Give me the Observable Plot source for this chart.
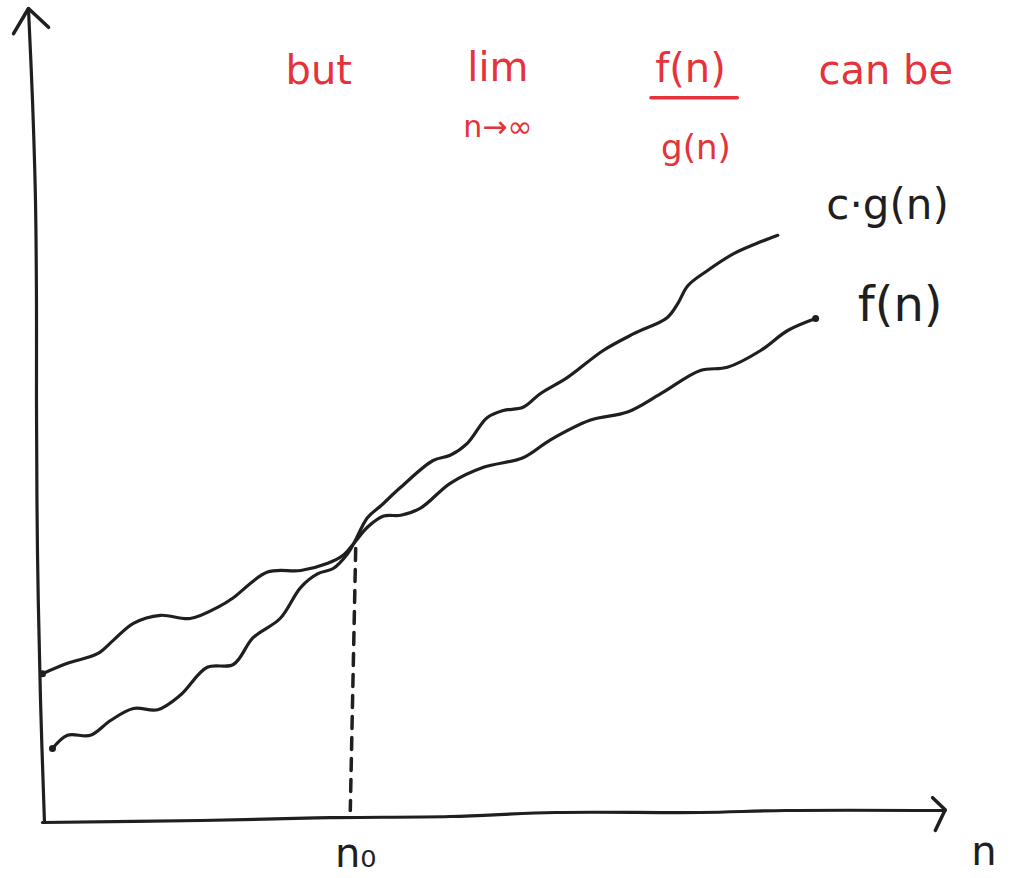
<!DOCTYPE html>
<html>
<head>
<meta charset="utf-8">
<script src="https://cdn.jsdelivr.net/npm/d3@7"></script>
<script src="https://cdn.jsdelivr.net/npm/@observablehq/plot@0.6"></script>
<style>
  html, body { margin: 0; padding: 0; background: #fff; }
  #chart svg { display: block; }
</style>
</head>
<body>
<div id="chart"></div>
<script>
// ---- data (n, value) in chart units ----
const fN  = [0, 2.78, 6.11, 7.89, 10.1, 13.1, 16.4, 19.8, 21.2, 25.0, 28.7, 31.7, 33.4, 34.6, 36.1, 37.9, 39.8, 42.0, 45.3, 49.0, 53.4, 56.4, 60.9, 65.0, 68.7, 73.1, 76.1, 79.8, 82.8, 85.9];
const fV  = [18.6, 19.9, 21.1, 22.8, 24.9, 25.9, 25.5, 27.1, 28.1, 31.3, 31.5, 32.4, 33.4, 34.9, 36.9, 38.3, 38.4, 39.3, 42.4, 44.4, 45.6, 47.8, 50.3, 51.3, 53.6, 56.5, 56.9, 59.0, 61.5, 63.0];
const cgN = [1.11, 2.78, 5.33, 7.56, 10.1, 12.8, 15.3, 18.3, 21.2, 23.4, 26.4, 28.7, 30.6, 32.3, 33.9, 34.6, 36.1, 37.6, 39.8, 43.4, 45.3, 47.2, 49.4, 51.2, 53.4, 55.3, 58.3, 62.3, 65.7, 69.4, 70.6, 71.7, 73.9, 76.8, 79.4, 81.7];
const cgV = [9.25, 10.9, 10.9, 12.75, 14.25, 14.1, 15.9, 19.4, 19.75, 23.1, 25.5, 29.4, 31.1, 31.75, 33.6, 34.9, 38.1, 39.6, 41.9, 45.25, 45.9, 47.4, 50.6, 51.5, 51.9, 53.6, 55.6, 59.0, 61.1, 63.1, 64.9, 67.1, 69.0, 71.1, 72.4, 73.4];

// hand-drawn axes
const yAxisN = [0.22, -0.22, -0.56, -0.67, -0.67, -0.78, -1.11, -1.56];
const yAxisV = [0, 15.25, 34, 52.75, 65.25, 77.75, 90.25, 101.75];
const yArrowN = [-3.22, -1.56, 0.67];
const yArrowV = [98.6, 101.75, 99.4];
const xAxisN = [0, 17.6, 32, 45.3, 57, 73.1, 82.6, 100.3];
const xAxisV = [0, 0.25, 0.6, 0.75, 1.25, 1.25, 1.5, 1.5];
const xArrowN = [98.9, 100.3, 99.2];
const xArrowV = [3.1, 1.6, -1];

// n0 marker
const n0N = [34.8, 34.2];
const n0V = [34.25, 1.5];

// labels
const blackLabels = ["c\u00b7g(n)", "f(n)", "n\u2080", "n"];
const blackLabelN = [93.9, 95.3, 34.8, 104.6];
const blackLabelV = [77.1, 64.6, -3.9, -3.7];
const blackLabelSize = [42, 48, 40, 40];

const redLabels = ["but", "lim", "n\u2192\u221e", "f(n)", "g(n)", "can be"];
const redLabelN = [30.7, 50.6, 50.6, 72.0, 72.6, 93.7];
const redLabelV = [93.9, 94.3, 86.9, 94.2, 84.3, 93.9];
const redLabelSize = [40, 40, 30, 40, 34, 40];
const fracBarN = [67.6, 77.2];
const fracBarV = [90.6, 90.6];

// ---- build tables ----
const zip = (ns, vs) => ns.map((n, i) => ({n, v: vs[i]}));
const fData = zip(fN, fV);
const cgData = zip(cgN, cgV);
const yAxis = zip(yAxisN, yAxisV);
const yArrow = zip(yArrowN, yArrowV);
const xAxis = zip(xAxisN, xAxisV);
const xArrow = zip(xArrowN, xArrowV);
const n0Line = zip(n0N, n0V);
const fracBar = zip(fracBarN, fracBarV);
const blackText = blackLabels.map((t, i) => ({t, n: blackLabelN[i], v: blackLabelV[i], s: blackLabelSize[i]}));
const redText = redLabels.map((t, i) => ({t, n: redLabelN[i], v: redLabelV[i], s: redLabelSize[i]}));

const ink = "#1f1f1f";
const red = "#e5323b";
const font = "DejaVu Sans";

const marks = [
  Plot.line(yAxis, {x: "n", y: "v", stroke: ink, strokeWidth: 3.2, curve: "catmull-rom"}),
  Plot.line(yArrow, {x: "n", y: "v", stroke: ink, strokeWidth: 3.5, strokeLinejoin: "round", strokeLinecap: "round"}),
  Plot.line(xAxis, {x: "n", y: "v", stroke: ink, strokeWidth: 3.2, curve: "catmull-rom"}),
  Plot.line(xArrow, {x: "n", y: "v", stroke: ink, strokeWidth: 3.5, strokeLinejoin: "round", strokeLinecap: "round"}),
  Plot.line(n0Line, {x: "n", y: "v", stroke: ink, strokeWidth: 3.5, strokeDasharray: "12,9", strokeLinecap: "round"}),
  Plot.line(fData, {x: "n", y: "v", stroke: ink, strokeWidth: 3.2, curve: "catmull-rom", strokeLinecap: "round"}),
  Plot.line(cgData, {x: "n", y: "v", stroke: ink, strokeWidth: 3.2, curve: "catmull-rom", strokeLinecap: "round"}),
  Plot.dot([fData[0], cgData[0], fData[fData.length - 1]], {x: "n", y: "v", r: 3.5, fill: ink}),
  Plot.line(fracBar, {x: "n", y: "v", stroke: red, strokeWidth: 3.5, strokeLinecap: "round"}),
  ...redText.map(d => Plot.text([d], {x: "n", y: "v", text: "t", fill: red, fontSize: d.s, fontFamily: font})),
  ...blackText.map(d => Plot.text([d], {x: "n", y: "v", text: "t", fill: ink, fontSize: d.s, fontFamily: font}))
];

const chart = Plot.plot({
  width: 1010,
  height: 878,
  margin: 0,
  style: {background: "#fff", overflow: "visible"},
  x: {domain: [0, 100], range: [42, 942], axis: null},
  y: {domain: [0, 100], range: [822, 22], axis: null},
  marks
});
document.getElementById("chart").appendChild(chart);
</script>
</body>
</html>
